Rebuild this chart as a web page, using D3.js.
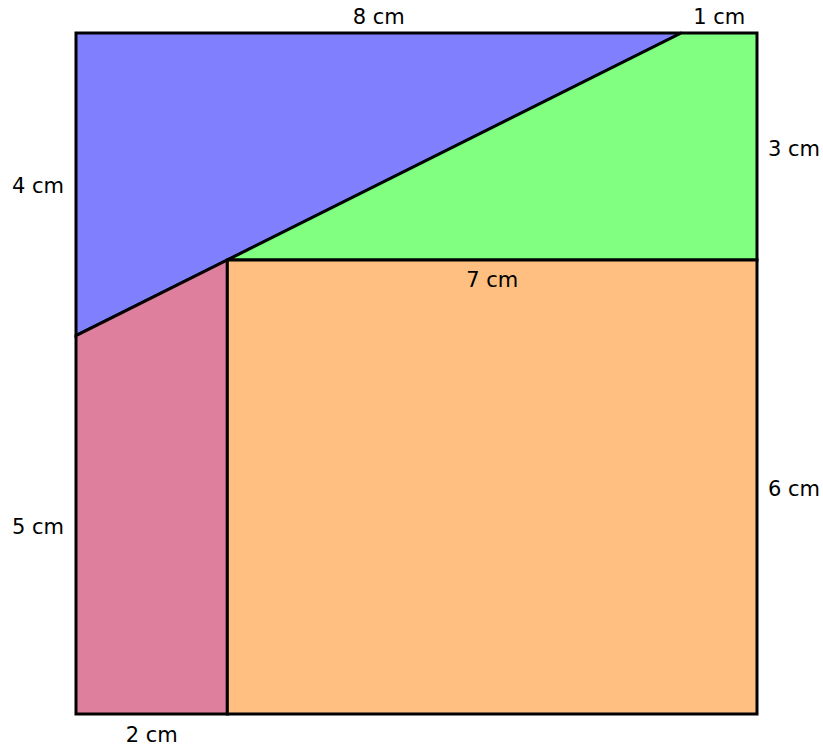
<!DOCTYPE html>
<html>
<head>
<meta charset="utf-8">
<script src="https://cdn.jsdelivr.net/npm/d3@7"></script>
<style>
  body { margin: 0; background: #fff; }
  text { font-family: "DejaVu Sans", sans-serif; font-size: 21px; fill: #000; }
</style>
</head>
<body>
<svg id="chart" width="823" height="746"></svg>
<script>
// square side and corner points, in cm (y measured down from top edge)
const side = 9
const regionNames = ['blue', 'green', 'pink', 'orange']
const regionColors = ['#8080ff', '#80ff80', '#de809d', '#ffbf80']
const regionPoints = [
  [[0, 0], [8, 0], [2, 3], [0, 4]],
  [[8, 0], [9, 0], [9, 3], [2, 3]],
  [[0, 4], [2, 3], [2, 9], [0, 9]],
  [[2, 3], [9, 3], [9, 9], [2, 9]]
]
const labelTexts = ['8 cm', '1 cm', '3 cm', '4 cm', '7 cm', '6 cm', '5 cm', '2 cm']
const labelAnchors = [[4, 0], [8.5, 0], [9, 1.5], [0, 2], [5.5, 3], [9, 6], [0, 6.5], [1, 9]]
const labelSides = ['top', 'top', 'right', 'left', 'below', 'right', 'left', 'bottom']

const svg = d3.select('#chart')
const x = d3.scaleLinear().domain([0, side]).range([76, 757])
const y = d3.scaleLinear().domain([0, side]).range([33, 714])

const line = d3.line().x(d => x(d[0])).y(d => y(d[1]))

svg.append('g')
  .selectAll('path')
  .data(regionPoints)
  .enter()
  .append('path')
  .attr('class', (d, i) => regionNames[i])
  .attr('d', d => line(d) + 'Z')
  .style('fill', (d, i) => regionColors[i])
  .style('stroke', '#000')
  .style('stroke-width', 3)
  .style('stroke-linejoin', 'miter')

const offsets = {
  top: [0, -9, 'middle'],
  bottom: [0, 28, 'middle'],
  below: [0, 27, 'middle'],
  left: [-38, 9, 'middle'],
  right: [37, 9, 'middle']
}

svg.append('g')
  .selectAll('text')
  .data(labelTexts)
  .enter()
  .append('text')
  .attr('x', (d, i) => x(labelAnchors[i][0]) + offsets[labelSides[i]][0])
  .attr('y', (d, i) => y(labelAnchors[i][1]) + offsets[labelSides[i]][1])
  .attr('text-anchor', (d, i) => offsets[labelSides[i]][2])
  .text(d => d)
</script>
</body>
</html>
